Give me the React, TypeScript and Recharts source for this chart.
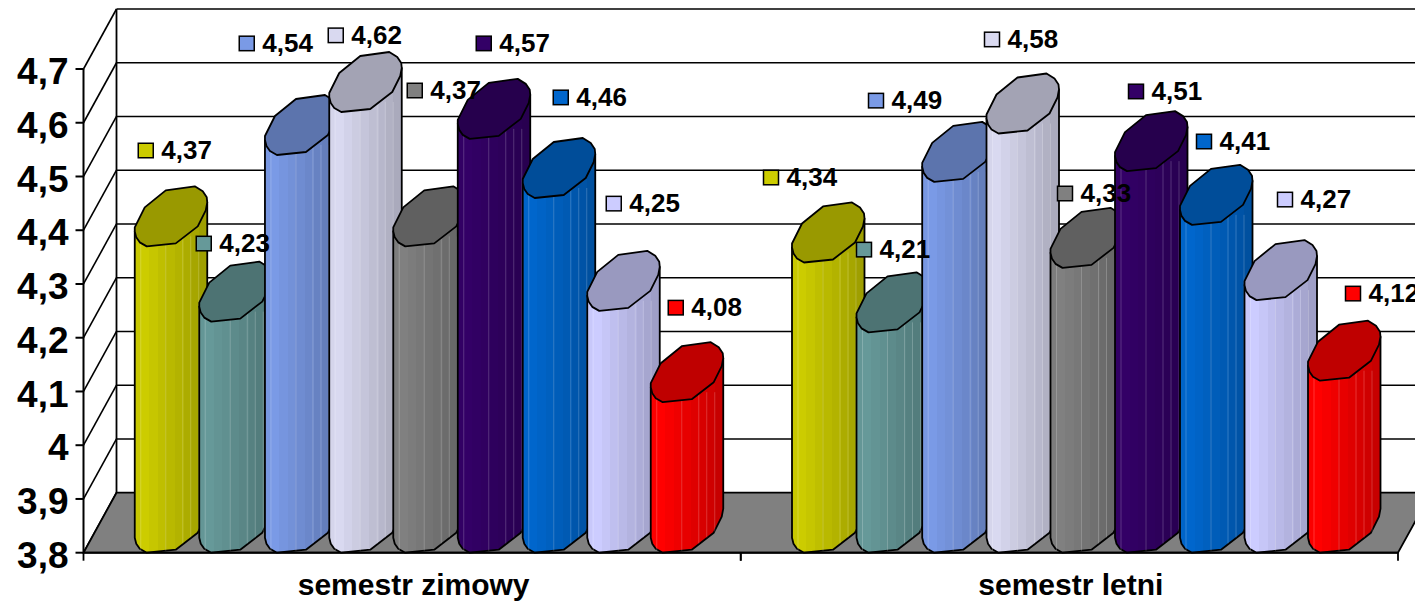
import { BarChart, Bar, XAxis, YAxis, CartesianGrid } from 'recharts'

const categories = ['semestr zimowy', 'semestr letni']
const yTicks = [3.8, 3.9, 4, 4.1, 4.2, 4.3, 4.4, 4.5, 4.6, 4.7]

const seriesA = [4.37, 4.34]
const seriesB = [4.23, 4.21]
const seriesC = [4.54, 4.49]
const seriesD = [4.62, 4.58]
const seriesE = [4.37, 4.33]
const seriesF = [4.57, 4.51]
const seriesG = [4.46, 4.41]
const seriesH = [4.25, 4.27]
const seriesI = [4.08, 4.12]

const allSeries = [seriesA, seriesB, seriesC, seriesD, seriesE, seriesF, seriesG, seriesH, seriesI]
const rows = categories.map((name, c) => {
  const row: Record<string, string | number> = { name }
  allSeries.forEach((s, i) => { row[`s${i}`] = s[c] })
  return row
})

// light side, dark side of each cylinder
const colors = [
  ['#cccc00', '#999900'],
  ['#669999', '#4d7373'],
  ['#7a9ae6', '#5c74ad'],
  ['#d9d9f0', '#a3a3b4'],
  ['#808080', '#606060'],
  ['#330066', '#26004d'],
  ['#0066cc', '#004d99'],
  ['#ccccff', '#9999bf'],
  ['#ff0000', '#bf0000'],
]

// hand placed labels in the original, offset from each bar's corner
const labelOffsets = [
  [[11.5, -95.6], [-20.5, -84.7]],
  [[5, -77.8], [8, -82.5]],
  [[-16.5, -111.3], [-44.5, -81]],
  [[8, -76.4], [7, -93.8]],
  [[22.5, -155.6], [15.5, -74.1]],
  [[27, -95.2], [22, -79.4]],
  [[39.5, -100.3], [25.5, -83.1]],
  [[28, -107], [42, -100.3]],
  [[25.5, -94.3], [45.5, -86.9]],
]

const FONT = '"Liberation Sans", Arial, sans-serif'
const WIDTH = 1440
const HEIGHT = 602
const LEFT = 83.5
const RIGHT = 1398
const TOP = 69
const BOTTOM = 552.7
const DEPTH_X = 33
const DEPTH_Y = 60
const BAR_SHIFT = 12.75
const BAR_W = 64.5

// pixel rounding in the original made some bars sit a little to the right
const barNudge = [0.5, 0.5, 1.7, 1.5, 1, 1, 1.5, 1.5, 0.5]

const TOP_FACE: [number, number][] = [
  [0, -19], [10, -39], [31, -56], [60, -60], [68, -55], [72, -49], [72.5, -44],
  [71, -36], [63, -20], [41, -3], [12, 0], [5, -4], [1.5, -9], [0, -15],
]
const FACETS = [0, 0.07, 0.2, 0.32, 0.42, 0.55, 0.68, 0.78, 0.88, 1]
const STRIPES = [6, 31, 48, 56, 64]

function mix(a: string, b: string, t: number) {
  const ch = (s: string, i: number) => parseInt(s.slice(1 + i * 2, 3 + i * 2), 16)
  const out = [0, 1, 2].map((i) => Math.round(ch(a, i) + (ch(b, i) - ch(a, i)) * t))
  return `rgb(${out.join(',')})`
}

function Cylinder(props: any) {
  const { x, y, height, series } = props
  const L = x + BAR_SHIFT + barNudge[series]
  const pts = (list: [number, number][]) =>
    list.map(([a, b]) => `${L + a},${y + b}`).join(' ')
  const body: [number, number][] = [
    [0, -15], [72.5, -44], [72.5, height - 44], [71, height - 36], [63, height - 20],
    [41, height - 3], [12, height], [5, height - 4], [1.5, height - 9], [0, height - 15],
  ]
  return (
    <g>
      <polygon points={pts(body)} fill={`url(#cyl${series})`} stroke="#000" strokeWidth={1.8} strokeLinejoin="round" />
      {STRIPES.map((dx) => (
        <line
          key={dx}
          x1={L + dx}
          x2={L + dx}
          y1={y - 10}
          y2={y + height - (dx > 41 ? 4 + (dx - 41) * 0.75 : 2)}
          stroke="#fff"
          strokeOpacity={0.2}
          strokeWidth={1}
        />
      ))}
      <polygon points={pts(TOP_FACE)} fill={colors[series][1]} stroke="#000" strokeWidth={1.8} strokeLinejoin="round" />
    </g>
  )
}

function ValueLabel(props: any) {
  const { x, y, index, series, value } = props
  const [dx, dy] = labelOffsets[series][index]
  const cx = x + BAR_SHIFT + dx
  const cy = y + dy
  return (
    <g>
      <rect x={cx - 7.5} y={cy - 7.5} width={15} height={14.5} fill={colors[series][0]} stroke="#000" strokeWidth={1.5} />
      <text x={cx + 15.5} y={cy + 8.5} fontFamily={FONT} fontWeight="bold" fontSize={26} fill="#000">
        {String(value).replace('.', ',')}
      </text>
    </g>
  )
}

function CategoryTick(props: any) {
  const { x, y, payload } = props
  const half = (RIGHT - LEFT) / 4
  return (
    <g>
      <line x1={x - half} x2={x - half} y1={BOTTOM} y2={BOTTOM + 8} stroke="#000" strokeWidth={1.8} />
      <line x1={x + half} x2={x + half} y1={BOTTOM} y2={BOTTOM + 8} stroke="#000" strokeWidth={1.8} />
      <text x={x + 1.5} y={y + 34.5} textAnchor="middle" fontFamily={FONT} fontWeight="bold" fontSize={30} fill="#000">
        {payload.value}
      </text>
    </g>
  )
}

function WallAndFloor() {
  return (
    <g>
      <polygon
        points={`${LEFT},${BOTTOM} ${LEFT + DEPTH_X},${BOTTOM - DEPTH_Y} ${RIGHT + DEPTH_X},${BOTTOM - DEPTH_Y} ${RIGHT},${BOTTOM}`}
        fill="#808080"
        stroke="#000"
        strokeWidth={1.8}
      />
      <line x1={LEFT + DEPTH_X} x2={LEFT + DEPTH_X} y1={TOP - DEPTH_Y} y2={BOTTOM - DEPTH_Y} stroke="#000" strokeWidth={1.8} />
    </g>
  )
}

// grid sits on the back wall, with a diagonal running back from the front axis
function GridLine(props: any) {
  const { x1, x2, y1 } = props
  return (
    <g>
      <line x1={x1} y1={y1} x2={x1 + DEPTH_X} y2={y1 - DEPTH_Y} stroke="#000" strokeWidth={1.6} />
      <line x1={x1 + DEPTH_X} y1={y1 - DEPTH_Y} x2={x2 + DEPTH_X} y2={y1 - DEPTH_Y} stroke="#000" strokeWidth={1.6} />
    </g>
  )
}

export default function App() {
  return (
    <div style={{ position: 'absolute', left: 0, top: 0, width: 1415, height: 602, overflow: 'hidden', background: '#fff' }}>
      <BarChart
        width={WIDTH}
        height={HEIGHT}
        data={rows}
        barSize={BAR_W}
        barGap={0}
        margin={{ top: TOP, right: WIDTH - RIGHT, bottom: 0, left: 0 }}
      >
        <defs>
          {colors.map(([light, dark], i) => (
            <linearGradient key={i} id={`cyl${i}`} x1="0" x2="1" y1="0" y2="0">
              {FACETS.slice(0, -1).map((f, k) => {
                const c = k === 0 ? mix(light, dark, 0.08) : mix(light, dark, (k - 1) / 8)
                return [
                  <stop key={`${k}a`} offset={f} stopColor={c} />,
                  <stop key={`${k}b`} offset={FACETS[k + 1]} stopColor={c} />,
                ]
              })}
            </linearGradient>
          ))}
        </defs>
        <WallAndFloor />
        <CartesianGrid horizontal={(p: any) => <GridLine key={p.key} {...p} />} vertical={false} />
        <XAxis
          dataKey="name"
          height={HEIGHT - BOTTOM}
          axisLine={{ stroke: '#000', strokeWidth: 2 }}
          tickLine={false}
          tick={(p: any) => <CategoryTick {...p} />}
          interval={0}
        />
        <XAxis xAxisId="labels" dataKey="name" hide />
        <YAxis
          type="number"
          domain={[3.8, 4.7]}
          ticks={yTicks}
          interval={0}
          width={LEFT}
          axisLine={{ stroke: '#000', strokeWidth: 2 }}
          tickLine={{ stroke: '#000', strokeWidth: 2 }}
          tickSize={8}
          tickMargin={7}
          tick={{ fontFamily: FONT, fontWeight: 'bold', fontSize: 37, fill: '#000', dy: 2 }}
          tickFormatter={(v: number) => String(v).replace('.', ',')}
        />
        {allSeries.map((_, i) => (
          <Bar
            key={i}
            dataKey={`s${i}`}
            isAnimationActive={false}
            shape={(p: any) => <Cylinder {...p} series={i} />}
          />
        ))}
        {allSeries.map((_, i) => (
          <Bar
            key={`label${i}`}
            xAxisId="labels"
            dataKey={`s${i}`}
            isAnimationActive={false}
            shape={(p: any) => <ValueLabel {...p} series={i} value={rows[p.index][`s${i}`]} />}
          />
        ))}
      </BarChart>
    </div>
  )
}
